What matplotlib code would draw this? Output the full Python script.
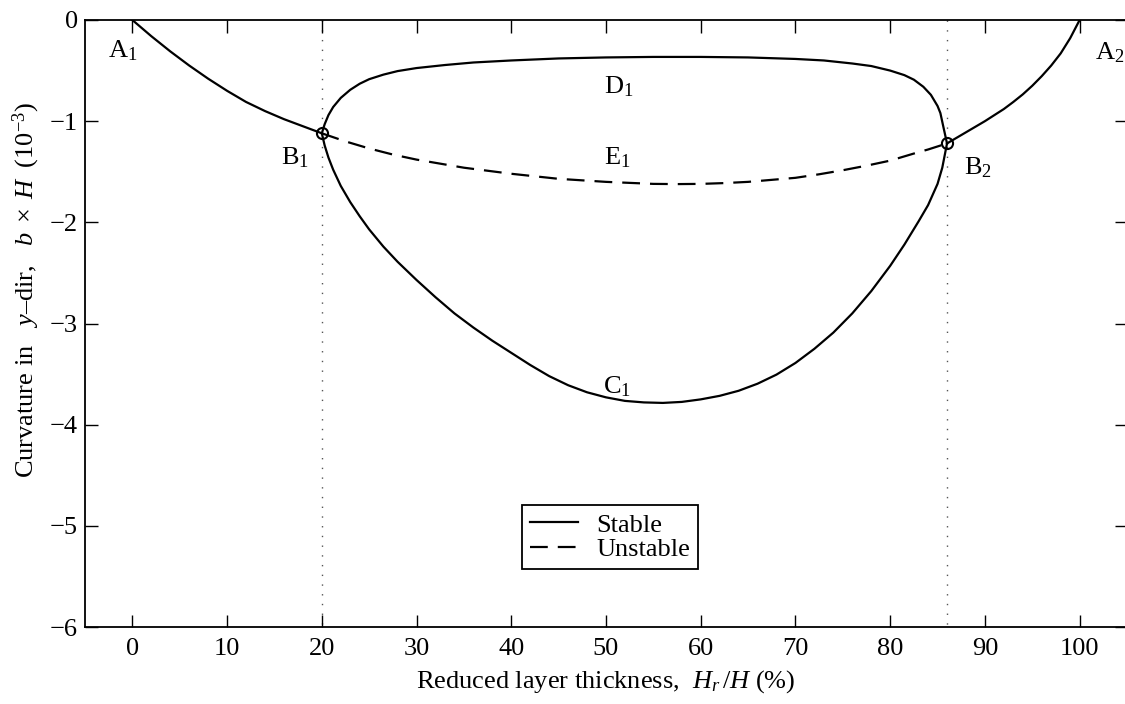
import matplotlib
matplotlib.use("Agg")
import matplotlib.pyplot as plt

plt.rcParams['font.family'] = ['Liberation Serif', 'DejaVu Serif']
plt.rcParams['mathtext.fontset'] = 'custom'
plt.rcParams['mathtext.rm'] = 'Liberation Serif'
plt.rcParams['mathtext.it'] = 'Liberation Serif:italic'
plt.rcParams['mathtext.bf'] = 'Liberation Serif:bold'

# ---- data ----
ab1_x = [0, 1, 2, 3, 4, 5, 6, 7, 8, 9, 10, 11, 12, 13, 14, 15, 16, 17, 18, 19, 20]
ab1_y = [0, -0.08, -0.16, -0.235, -0.31, -0.38, -0.45, -0.515, -0.58, -0.64, -0.70, -0.755, -0.81, -0.855,
         -0.90, -0.94, -0.98, -1.015, -1.05, -1.085, -1.12]

ab2_x = [86, 87, 88, 89, 90, 91, 92, 93, 94, 95, 96, 97, 98, 99, 100]
ab2_y = [-1.22, -1.165, -1.11, -1.055, -1.0, -0.94, -0.88, -0.81, -0.735, -0.65, -0.555, -0.45, -0.33, -0.18, 0.0]

d1_x = [20, 20.3, 20.7, 21.2, 22, 23, 24, 25, 26.5, 28, 30, 33, 36, 40, 45, 50, 55, 60, 65, 70, 73, 76, 78,
        80, 81.5, 82.5, 83.5, 84.3, 85, 85.3, 85.6, 86]
d1_y = [-1.12, -1.03, -0.94, -0.86, -0.77, -0.69, -0.63, -0.585, -0.54, -0.505, -0.475, -0.445, -0.42, -0.40,
        -0.38, -0.37, -0.365, -0.365, -0.37, -0.385, -0.40, -0.43, -0.455, -0.50, -0.545, -0.59, -0.66, -0.74,
        -0.85, -0.92, -1.05, -1.22]

c1_x = [20, 20.3, 20.7, 21.2, 22, 23, 24, 25, 26.5, 28, 30, 32, 34, 36, 38, 40, 42, 44, 46, 48, 50, 52, 54,
        56, 58, 60, 62, 64, 66, 68, 70, 72, 74, 76, 78, 80, 81.5, 83, 84, 85, 85.5, 86]
c1_y = [-1.12, -1.24, -1.36, -1.48, -1.64, -1.80, -1.94, -2.07, -2.24, -2.39, -2.57, -2.74, -2.90, -3.04,
        -3.17, -3.29, -3.41, -3.52, -3.61, -3.68, -3.73, -3.765, -3.78, -3.785, -3.775, -3.75, -3.715, -3.665,
        -3.595, -3.505, -3.39, -3.25, -3.09, -2.90, -2.68, -2.43, -2.22, -1.99, -1.83, -1.62, -1.46, -1.22]

e1_x = [20, 22.5, 25, 27.5, 30, 32.5, 35, 37.5, 40, 42.5, 45, 47.5, 50, 52.5, 55, 57.5, 60, 62.5, 65, 67.5,
        70, 72.5, 75, 77.5, 80, 82.5, 84, 86]
e1_y = [-1.12, -1.20, -1.27, -1.33, -1.38, -1.42, -1.46, -1.49, -1.52, -1.545, -1.57, -1.585, -1.60, -1.61,
        -1.62, -1.622, -1.62, -1.612, -1.60, -1.58, -1.56, -1.525, -1.485, -1.44, -1.39, -1.32, -1.28, -1.22]

bif_x = [20, 86]
bif_y = [-1.12, -1.22]

labels = ["A$_1$", "A$_2$", "B$_1$", "B$_2$", "C$_1$", "D$_1$", "E$_1$"]
label_x = [-1.0, 103.2, 17.2, 89.3, 51.2, 51.3, 51.2]
label_y = [-0.30, -0.32, -1.36, -1.46, -3.62, -0.66, -1.36]

xticks = [0, 10, 20, 30, 40, 50, 60, 70, 80, 90, 100]
yticks = [0, -1, -2, -3, -4, -5, -6]
ytick_labels = ['0', '\u22121', '\u22122', '\u22123', '\u22124', '\u22125', '\u22126']

# ---- figure ----
fs = 19
fig = plt.figure(figsize=(11.25, 7.04), dpi=100)
ax = fig.add_axes([85 / 1125, 77 / 704, 1042 / 1125, 607 / 704])

lw = 1.6
ax.plot(ab1_x, ab1_y, color='k', lw=lw, label='Stable')
ax.plot(ab2_x, ab2_y, color='k', lw=lw)
ax.plot(d1_x, d1_y, color='k', lw=lw)
ax.plot(c1_x, c1_y, color='k', lw=lw)
ax.plot(e1_x, e1_y, color='k', lw=lw, ls=(0, (8, 4.5)), label='Unstable')

for xv in bif_x:
    ax.plot([xv, xv], [0, -6], color='#555555', lw=1.0, ls=(0, (1, 6)), zorder=1)
ax.plot(bif_x, bif_y, ls='none', marker='o', ms=8, mfc='none', mec='k', mew=1.5)

for t, xv, yv in zip(labels, label_x, label_y):
    ax.text(xv, yv, t, ha='center', va='center', fontsize=fs)

ax.set_xlim(-5, 105)
ax.set_ylim(-6, 0)
ax.set_xticks(xticks)
ax.set_yticks(yticks)
ax.set_yticklabels(ytick_labels)
ax.tick_params(direction='in', length=9, width=1.0, top=True, right=True, labelsize=fs)
ax.tick_params(axis='x', pad=8)
ax.tick_params(axis='y', pad=5)
for s in ax.spines.values():
    s.set_linewidth(1.3)

ax.set_xlabel(r"Reduced layer thickness,  $H_r\,/H$ (%)", fontsize=fs, labelpad=6)
ax.set_ylabel(r"Curvature in   $y$–dir,   $b\;\times\;H\ \ \mathit{(10}^{-3}\mathit{)}$", fontsize=fs)
ax.yaxis.set_label_coords(-0.041, 0.555)

leg = ax.legend(loc='center', bbox_to_anchor=(0.504, 0.148), fontsize=fs, frameon=True, fancybox=False,
                edgecolor='k', framealpha=1, handlelength=1.8, borderpad=0.3, labelspacing=0.05,
                handletextpad=0.7, borderaxespad=0)
leg.get_frame().set_linewidth(1.3)

fig.savefig("out.png", dpi=100)
